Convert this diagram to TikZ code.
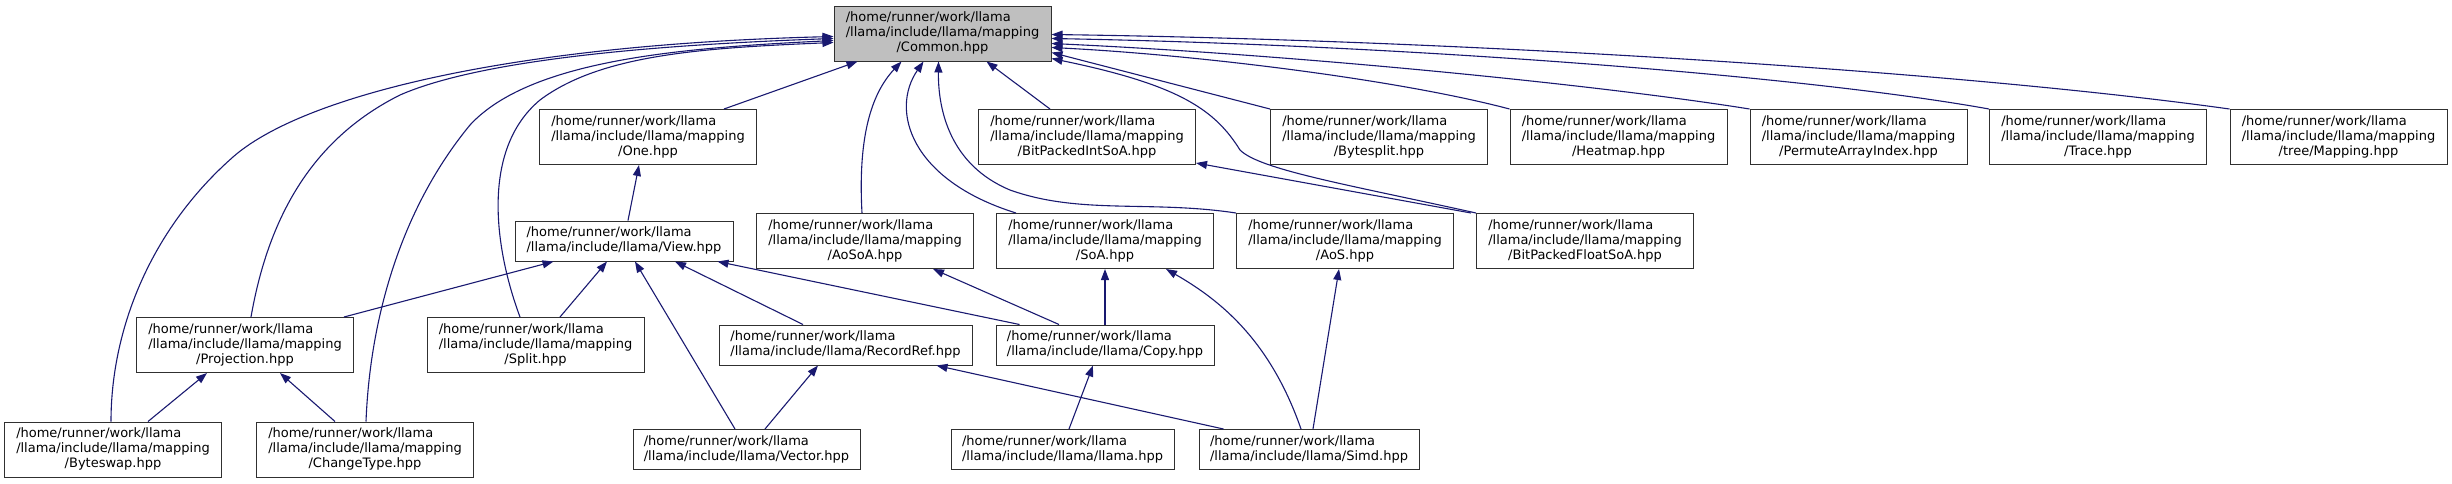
\documentclass[tikz,border=0pt]{standalone}
\usepackage{fontspec}
\setmainfont{DejaVu Sans}
\usetikzlibrary{arrows.meta,calc}
\definecolor{edgeblue}{HTML}{191970}
\definecolor{commonfill}{HTML}{BFBFBF}
\definecolor{boxline}{HTML}{303030}
\newcommand{\threelines}[3]{\begin{tabular}{@{}l@{}}#1\\#2\\\multicolumn{1}{@{}c@{}}{#3}\end{tabular}}
\newcommand{\twolines}[2]{\begin{tabular}{@{}l@{}}#1\\#2\end{tabular}}
\begin{document}
\begin{tikzpicture}[x=1pt,y=-1pt,
  font=\fontsize{13}{15}\selectfont,
  filebox/.style={draw=boxline, line width=1pt, fill=white, inner sep=0pt,
    minimum height=55pt, minimum width=217pt},
  twobox/.style={filebox, minimum height=40pt},
  dep/.style={draw=edgeblue, line width=1.1pt,
    -{Triangle[length=11pt,width=8pt,fill=edgeblue]}}]
\useasboundingbox (0,0) rectangle (2452,483);
% rank 0
\node[filebox, fill=commonfill] (Common) at (942.5,33.5) {\threelines{/home/runner/work/llama}{/llama/include/llama/mapping}{/Common.hpp}};
% rank 1
\node[filebox] (One) at (648,137) {\threelines{/home/runner/work/llama}{/llama/include/llama/mapping}{/One.hpp}};
\node[filebox] (BPIS) at (1087,137) {\threelines{/home/runner/work/llama}{/llama/include/llama/mapping}{/BitPackedIntSoA.hpp}};
\node[filebox] (Bytesplit) at (1379,137) {\threelines{/home/runner/work/llama}{/llama/include/llama/mapping}{/Bytesplit.hpp}};
\node[filebox] (Heatmap) at (1618.5,137) {\threelines{/home/runner/work/llama}{/llama/include/llama/mapping}{/Heatmap.hpp}};
\node[filebox] (PAI) at (1858.5,137) {\threelines{/home/runner/work/llama}{/llama/include/llama/mapping}{/PermuteArrayIndex.hpp}};
\node[filebox] (Trace) at (2098,137) {\threelines{/home/runner/work/llama}{/llama/include/llama/mapping}{/Trace.hpp}};
\node[filebox] (TreeMap) at (2338.5,137) {\threelines{/home/runner/work/llama}{/llama/include/llama/mapping}{/tree/Mapping.hpp}};
% rank 2
\node[twobox, minimum width=218pt] (View) at (624,241) {\twolines{/home/runner/work/llama}{/llama/include/llama/View.hpp}};
\node[filebox] (AoSoA) at (865,241) {\threelines{/home/runner/work/llama}{/llama/include/llama/mapping}{/AoSoA.hpp}};
\node[filebox] (SoA) at (1105,241) {\threelines{/home/runner/work/llama}{/llama/include/llama/mapping}{/SoA.hpp}};
\node[filebox] (AoS) at (1345,241) {\threelines{/home/runner/work/llama}{/llama/include/llama/mapping}{/AoS.hpp}};
\node[filebox] (BPFS) at (1585,241) {\threelines{/home/runner/work/llama}{/llama/include/llama/mapping}{/BitPackedFloatSoA.hpp}};
% rank 3
\node[filebox] (Projection) at (245,345) {\threelines{/home/runner/work/llama}{/llama/include/llama/mapping}{/Projection.hpp}};
\node[filebox] (Split) at (535.5,345) {\threelines{/home/runner/work/llama}{/llama/include/llama/mapping}{/Split.hpp}};
\node[twobox, minimum width=253pt] (RecordRef) at (845.5,345) {\twolines{/home/runner/work/llama}{/llama/include/llama/RecordRef.hpp}};
\node[twobox, minimum width=218pt] (Copy) at (1105,345) {\twolines{/home/runner/work/llama}{/llama/include/llama/Copy.hpp}};
% rank 4
\node[filebox] (Byteswap) at (113,449.5) {\threelines{/home/runner/work/llama}{/llama/include/llama/mapping}{/Byteswap.hpp}};
\node[filebox] (ChangeType) at (365,449.5) {\threelines{/home/runner/work/llama}{/llama/include/llama/mapping}{/ChangeType.hpp}};
\node[twobox, minimum width=227pt] (Vector) at (746.5,449.5) {\twolines{/home/runner/work/llama}{/llama/include/llama/Vector.hpp}};
\node[twobox, minimum width=223pt] (llama) at (1062.5,449.5) {\twolines{/home/runner/work/llama}{/llama/include/llama/llama.hpp}};
\node[twobox, minimum width=220pt] (Simd) at (1309,449.5) {\twolines{/home/runner/work/llama}{/llama/include/llama/Simd.hpp}};

% edges into Common (left side)
\draw[dep] ($(Byteswap.north)+(-2,0)$) .. controls (111,330) and (150,230) .. (233,157) .. controls (300,98) and (500,45) .. ($(Common.north west)+(0,31)$);
\draw[dep] ($(Projection.north)+(6,0)$) .. controls (268,220) and (310,140) .. (400,95) .. controls (480,60) and (650,45) .. ($(Common.north west)+(0,33)$);
\draw[dep] ($(ChangeType.north)+(1,0)$) .. controls (370,320) and (400,210) .. (470,125) .. controls (530,60) and (680,48) .. ($(Common.north west)+(0,35)$);
\draw[dep] ($(Split.north)+(-15.5,0)$) .. controls (495,250) and (480,150) .. (540,100) .. controls (600,55) and (700,48) .. ($(Common.north west)+(0,37)$);
% edges into Common (bottom)
\draw[dep] ($(One.north)+(76,0)$) -- ($(Common.south west)+(24,0)$);
\draw[dep] ($(AoSoA.north)+(-3,0)$) .. controls (858,140) and (870,95) .. ($(Common.south west)+(68,0)$);
\draw[dep] ($(SoA.north west)+(20,0)$) .. controls (910,180) and (890,110) .. ($(Common.south west)+(90,0)$);
\draw[dep] (AoS.north west) .. controls (1150,200) and (1080,215) .. (1010,190) .. controls (950,165) and (938,110) .. ($(Common.south west)+(105,0)$);
\draw[dep] ($(BPIS.north)+(-37,0)$) -- ($(Common.south east)+(-65,0)$);
% edges into Common (right side)
\draw[dep] (BPFS.north west) .. controls (1350,185) and (1260,170) .. (1240,150) .. controls (1215,110) and (1180,85) .. ($(Common.north east)+(0,53)$);
\draw[dep] (Bytesplit.north west) -- ($(Common.north east)+(0,47)$);
\draw[dep] (Heatmap.north west) .. controls (1400,80) and (1200,55) .. ($(Common.north east)+(0,42)$);
\draw[dep] (PAI.north west) .. controls (1600,85) and (1300,55) .. ($(Common.north east)+(0,38)$);
\draw[dep] (Trace.north west) .. controls (1800,75) and (1400,45) .. ($(Common.north east)+(0,33)$);
\draw[dep] (TreeMap.north west) .. controls (1950,70) and (1450,40) .. ($(Common.north east)+(0,29)$);
% other edges
\draw[dep] ($(View.north)+(4,0)$) -- ($(One.south)+(-9,0)$);
\draw[dep] ($(Projection.north east)+(-10,0)$) -- ($(View.south west)+(39,0)$);
\draw[dep] ($(Split.north)+(24.5,0)$) -- ($(View.south)+(-17,0)$);
\draw[dep] ($(Vector.north)+(-11.5,0)$) -- ($(View.south)+(11,0)$);
\draw[dep] ($(RecordRef.north)+(-42.5,0)$) -- ($(View.south)+(51,0)$);
\draw[dep] ($(Copy.north west)+(24,0)$) -- ($(View.south east)+(-16,0)$);
\draw[dep] ($(Copy.north)+(-46,0)$) -- ($(AoSoA.south)+(68,0)$);
\draw[dep] (Copy.north) -- (SoA.south);
\draw[dep] ($(Simd.north)+(-8,0)$) .. controls (1270,340) and (1220,300) .. ($(SoA.south)+(61,0)$);
\draw[dep] ($(Simd.north)+(4,0)$) -- ($(AoS.south)+(-6,0)$);
\draw[dep] ($(BPFS.north west)+(-5,0)$) -- ($(BPIS.south east)+(0,-2)$);
\draw[dep] ($(Byteswap.north)+(35,0)$) -- ($(Projection.south)+(-38,0)$);
\draw[dep] ($(ChangeType.north)+(-30,0)$) -- ($(Projection.south)+(35,0)$);
\draw[dep] ($(Vector.north)+(18.5,0)$) -- ($(RecordRef.south)+(-27.5,0)$);
\draw[dep] ($(Simd.north west)+(25,0)$) -- ($(RecordRef.south east)+(-36,0)$);
\draw[dep] ($(llama.north)+(6.5,0)$) -- ($(Copy.south)+(-12,0)$);
\end{tikzpicture}
\end{document}
